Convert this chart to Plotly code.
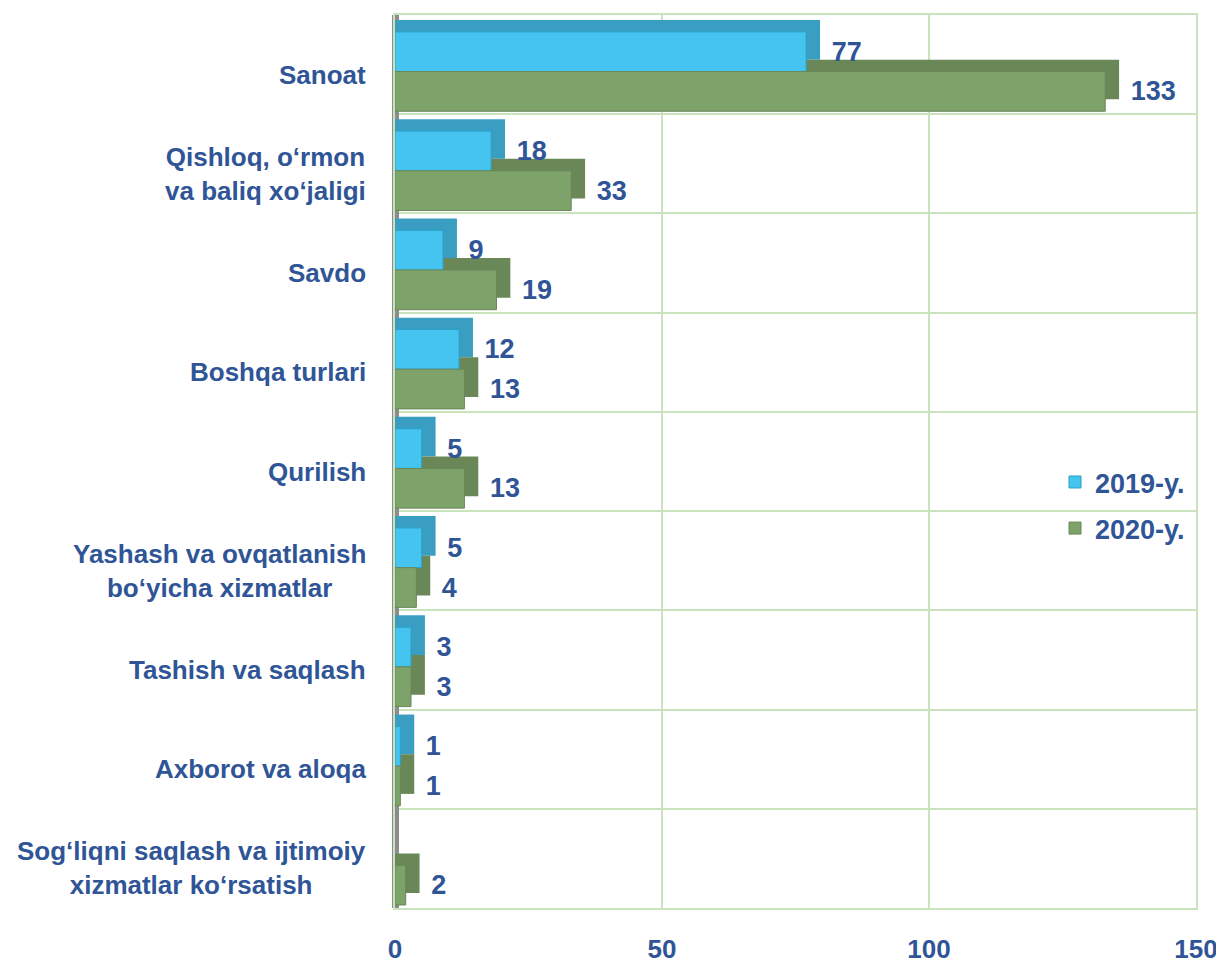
import plotly.graph_objects as go

# Categories (top to bottom) and values
categories = [
    "Sanoat",
    "Qishloq, o‘rmon<br>va baliq xo‘jaligi",
    "Savdo",
    "Boshqa turlari",
    "Qurilish",
    "Yashash va ovqatlanish<br>bo‘yicha xizmatlar",
    "Tashish va saqlash",
    "Axborot va aloqa",
    "Sog‘liqni saqlash va ijtimoiy<br>xizmatlar ko‘rsatish",
]
values_2019 = [77, 18, 9, 12, 5, 5, 3, 1, None]
values_2020 = [133, 33, 19, 13, 13, 4, 3, 1, 2]
x_ticks = [0, 50, 100, 150]

text_color = "#2F5597"
grid_color = "#C9E3BC"
font_family = "Liberation Sans, Arial"
depth = 2.6  # fake 3D depth, in axis units
positions = list(range(len(categories)))
pad = "\u00a0\u00a0\u00a0"

fig = go.Figure()

# darker "depth" bars behind the front faces (fake 3D look)
for vals, dark, off in [(values_2019, "#3A9EC2", -0.45), (values_2020, "#6A8758", -0.05)]:
    fig.add_trace(go.Bar(
        y=positions, x=[None if v is None else v + depth for v in vals], orientation="h",
        marker=dict(color=dark, line=dict(width=0)),
        width=0.4, offset=off, showlegend=False, hoverinfo="skip",
    ))

# front faces with value labels
fig.add_trace(go.Bar(
    y=positions, x=values_2019, orientation="h", name="2019-y.",
    marker=dict(color="#45C4F0", line=dict(color="#2AA0C8", width=1)),
    width=0.4, offset=-0.33, legendgroup="a",
    text=["" if v is None else pad + str(v) for v in values_2019],
    textposition="outside", cliponaxis=False,
    textfont=dict(size=27, color=text_color, family=font_family, weight="bold"),
))
fig.add_trace(go.Bar(
    y=positions, x=values_2020, orientation="h", name="2020-y.",
    marker=dict(color="#7EA36A", line=dict(color="#6A8758", width=1)),
    width=0.4, offset=0.07, legendgroup="b",
    text=[pad + str(v) for v in values_2020],
    textposition="outside", cliponaxis=False,
    textfont=dict(size=27, color=text_color, family=font_family, weight="bold"),
))

# category labels, centre aligned like the original
for i, cat in enumerate(categories):
    fig.add_annotation(
        x=0, xref="paper", y=i, yref="y", text=cat, showarrow=False,
        xanchor="right", align="center", xshift=-27, yshift=-10,
        font=dict(size=26, color=text_color, family=font_family, weight="bold"),
    )

fig.update_layout(
    width=1216, height=957,
    margin=dict(l=387, r=28, t=7, b=57),
    plot_bgcolor="white", paper_bgcolor="white",
    barmode="overlay",
    showlegend=True,
    legend=dict(
        x=0.824, y=0.504, xanchor="left", yanchor="top",
        font=dict(size=27, color=text_color, family=font_family, weight="bold"),
        tracegroupgap=8, itemwidth=30, bgcolor="rgba(0,0,0,0)",
        traceorder="grouped",
    ),
    xaxis=dict(
        range=[0, 150], tickvals=x_ticks, showgrid=True, gridcolor=grid_color, gridwidth=2,
        zeroline=True, zerolinecolor="#8C8C8C", zerolinewidth=7,
        showline=True, linecolor=grid_color, linewidth=2, mirror=True,
        ticklabelstandoff=17, ticklabeloverflow="allow", automargin=False,
        tickfont=dict(size=26, color=text_color, family=font_family, weight="bold"),
    ),
    yaxis=dict(
        range=[len(categories) - 0.5, -0.5], tickvals=positions, showticklabels=False,
        showgrid=False, zeroline=False, automargin=False,
        minor=dict(tick0=0.5, dtick=1, showgrid=True, gridcolor=grid_color, gridwidth=2),
        showline=True, linecolor=grid_color, linewidth=2, mirror=True,
    ),
)

fig.write_html("out.html")
